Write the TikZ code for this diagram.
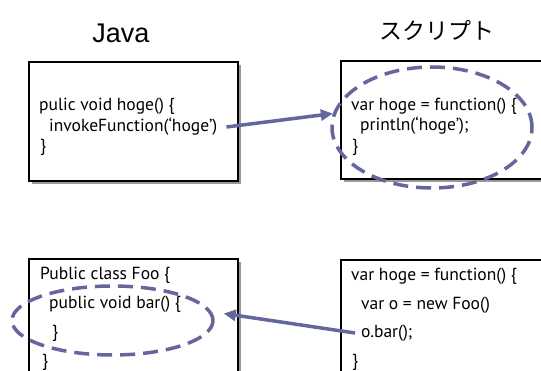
\documentclass[tikz,border=0pt]{standalone}
\usepackage{fontspec}
\setmainfont{PT Sans}
\newfontfamily\titlefont{Liberation Sans}
\newfontfamily\jpfont{Noto Sans CJK JP}
\usetikzlibrary{shapes.geometric,arrows.meta,shadows}
\definecolor{dashblue}{RGB}{102,102,158}
\begin{document}
\begin{tikzpicture}[x=1pt,y=-1pt,
  codebox/.style={draw=black, line width=1.8pt, fill=white, rectangle, inner sep=0pt, anchor=north west,
    drop shadow={shadow xshift=3.5pt, shadow yshift=-3.5pt, opacity=1, fill=black!40}},
  code/.style={anchor=west, inner sep=0pt, font=\fontsize{17.5}{20}\selectfont},
  ring/.style={ellipse, draw=dashblue, line width=3.5pt, dash pattern=on 15pt off 8pt, inner sep=0pt},
  conn/.style={draw=dashblue, line width=3.5pt, -{Triangle[length=12pt,width=11pt]}},
  title/.style={inner sep=0pt}]
\useasboundingbox (0,0) rectangle (541,371);
\clip (0,0) rectangle (541,371);
\fill[white] (0,0) rectangle (541,371);
% titles
\node[title, font=\titlefont\fontsize{27}{30}\selectfont] (jt) at (121,33) {Java};
\node[title, font=\jpfont\fontsize{23}{26}\selectfont] (st) at (437,30) {スクリプト};
% boxes
\node[codebox, minimum width=209pt, minimum height=119pt] (b1) at (28,61) {};
\node[codebox, minimum width=230pt, minimum height=118pt] (b2) at (340,60) {};
\node[codebox, minimum width=209pt, minimum height=130pt] (b3) at (28,258) {};
\node[codebox, minimum width=230pt, minimum height=130pt] (b4) at (340,259) {};
% texts top-left
\node[code] (t1) at (39,106) {pulic void hoge() \{};
\node[code] (t2) at (49,127) {invokeFunction(‘hoge’)};
\node[code] (t3) at (40,147) {\}};
% texts top-right
\node[code] (s1) at (351,106) {var hoge = function() \{};
\node[code] (s2) at (360,126) {println(‘hoge’);};
\node[code] (s3) at (352,147) {\}};
% texts bottom-left
\node[code] (u1) at (40,275) {Public class Foo \{};
\node[code] (u2) at (49,304) {public void bar() \{};
\node[code] (u3) at (52,333) {\}};
\node[code] (u4) at (42,362) {\}};
% texts bottom-right
\node[code] (v1) at (351,276) {var hoge = function() \{};
\node[code] (v2) at (361,305) {var o = new Foo()};
\node[code] (v3) at (361,333) {o.bar();};
\node[code] (v4) at (352,362) {\}};
% dashed ellipses
\node[ring, minimum width=200pt, minimum height=121pt] (e1) at (432,127.5) {};
\node[ring, minimum width=201pt, minimum height=69pt] (e2) at (112.5,320.5) {};
% connectors
\draw[conn] ([xshift=9pt]t2.east) -- (e1.172);
\draw[conn] ([xshift=-6pt]v3.west) -- ([shift={(9pt,7pt)}]e2.east);
\end{tikzpicture}
\end{document}
